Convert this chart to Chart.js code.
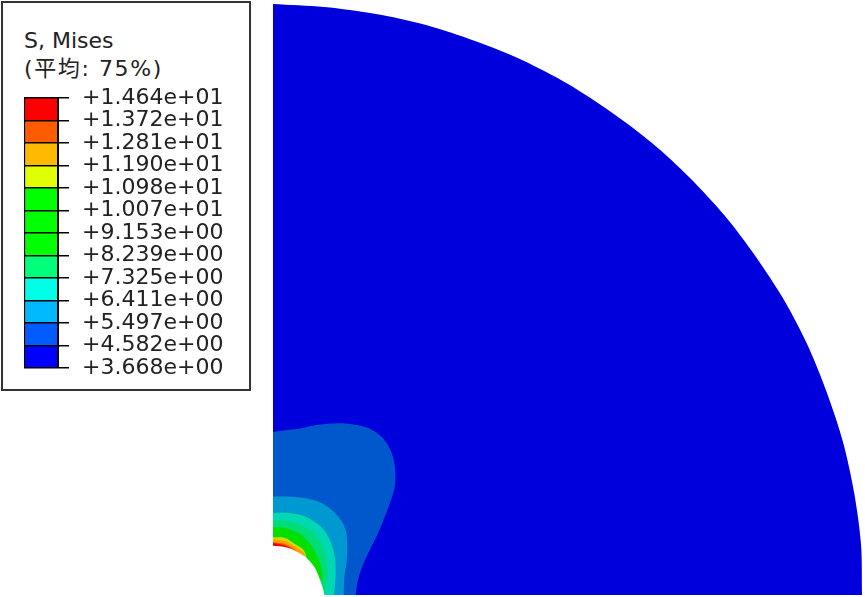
<!DOCTYPE html>
<html lang="ja">
  <head>
    <meta charset="UTF-8" />
    <title>S, Mises</title>
    <style>
      body {
        margin: 0;
        background: #fff;
        width: 865px;
        height: 597px;
        overflow: hidden;
        position: relative;
      }
      #plot {
        position: absolute;
        left: 0;
        top: 0;
      }
      #legend_box {
        position: absolute;
        left: 1px;
        top: 1px;
        width: 246px;
        height: 386px;
        border: 2px solid #333;
        background: #fff;
      }
      #legend_bar {
        position: absolute;
        left: 24px;
        top: 88px;
      }
      .legend_title {
        position: absolute;
        left: 24px;
        font: 22px "DejaVu Sans", "Noto Sans CJK JP", sans-serif;
        color: #222;
        line-height: 26px;
        white-space: nowrap;
      }
    </style>
  </head>
  <body>
    <canvas id="plot" width="865" height="597"></canvas>
    <div id="legend_box"></div>
    <div class="legend_title" style="top: 28px">S, Mises</div>
    <div class="legend_title" style="top: 56px; letter-spacing: 1.6px">(平均: 75%)</div>
    <canvas id="legend_bar" width="226" height="290"></canvas>
    <script src="https://cdn.jsdelivr.net/npm/chart.js"></script>
    <script>
      // legend, top to bottom
      const levelLabels = ["+1.464e+01", "+1.372e+01", "+1.281e+01", "+1.190e+01", "+1.098e+01", "+1.007e+01", "+9.153e+00", "+8.239e+00", "+7.325e+00", "+6.411e+00", "+5.497e+00", "+4.582e+00", "+3.668e+00"];
      const bandColors = ["#ff0000", "#ff5c00", "#ffb900", "#e0ff00", "#00ff00", "#00ff00", "#00ff00", "#00ff7a", "#00ffe6", "#00b9ff", "#005cff", "#0000ff"];

      // plate outline and contour lines, [x, y] from the hole centre
      const outerEdge = [[58.9, 0], [58.8, 5.1], [58.1, 10.3], [57, 15.3], [55.4, 20.2], [53.5, 24.9], [51.1, 29.5], [48.3, 33.8], [45.2, 37.9], [41.7, 41.7], [37.9, 45.2], [33.8, 48.3], [29.5, 51.1], [24.9, 53.5], [20.2, 55.4], [15.3, 57], [10.3, 58.1], [5.1, 58.8], [0, 59.1]];
      const contour46 = [[0, 16.3], [1.2, 16.47], [2.53, 16.63], [4.2, 16.97], [5.53, 17.13], [6.87, 17.17], [8.2, 17.03], [9.53, 16.7], [10.53, 16.1], [11.37, 15.2], [11.93, 14.03], [12.2, 12.7], [12.2, 11.03], [11.87, 9.7], [11.2, 7.87], [10.37, 5.87], [9.53, 4.2], [8.87, 2.7], [8.47, 1.37], [8.27, 0]];
      const contour55 = [[0, 9.83], [1.87, 9.83], [3.53, 9.63], [4.87, 9.2], [6.03, 8.37], [6.87, 7.37], [7.3, 6.37], [7.43, 5.03], [7.37, 3.37], [7.13, 1.7], [7.07, 0]];
      const contour64 = [[0, 8.2], [1.53, 8.2], [2.87, 7.97], [4.2, 7.3], [5.2, 6.37], [5.87, 5.03], [6.2, 3.7], [6.27, 2.03], [6.1, 0]];
      const contour73 = [[0, 7.47], [1.53, 7.37], [2.87, 6.97], [3.87, 6.37], [4.7, 5.37], [5.2, 4.2], [5.47, 2.7], [5.43, 1.37], [5.2, 0]];
      const contour82 = [[0, 6.77], [1.2, 6.7], [2.37, 6.27], [3.37, 5.53], [4.2, 4.37], [4.7, 3.2], [4.93, 2.2], [4.93, 1.53]];
      const contour110 = [[0, 5.77], [1.2, 5.7], [2.2, 5.1], [3.03, 4.53], [3.37, 3.77]];
      const contour119 = [[0, 5.57], [1.2, 5.4], [2.2, 4.85], [3, 4.3], [3.3, 3.75]];
      const contour128 = [[0, 5.27], [1.2, 5.1], [2.1, 4.6], [2.7, 4]];
      const contour137 = [[0, 5.2], [1.2, 4.95], [1.8, 4.6]];
      const holeEdge = [[0, 4.93], [1.2, 4.8], [2.2, 4.43], [3.37, 3.7], [4.2, 2.7], [4.7, 1.53], [5.03, 0.53], [5.13, 0]];

      const shapes = [
        { points: outerEdge, color: "#0000dc" },
        { points: contour46, color: "#0058cc" },
        { points: contour55, color: "#0098d0" },
        { points: contour64, color: "#00d8b4" },
        { points: contour73, color: "#00dc78" },
        { points: contour82, color: "#00e000" },
        { points: contour110, color: "#d0dc00" },
        { points: contour119, color: "#ffa000" },
        { points: contour128, color: "#ff5000" },
        { points: contour137, color: "#f00000" },
        { points: holeEdge, color: "#ffffff" },
      ];

      // last point twice keeps the curve from bulging past the edge, then back to the corner
      const closeShape = (points) => [...points, points[points.length - 1], [0, 0]];

      new Chart(document.getElementById("plot"), {
        type: "scatter",
        data: {
          datasets: shapes.map((s, i) => ({
            data: closeShape(s.points).map((p) => ({ x: p[0], y: p[1] })),
            showLine: true,
            fill: "shape",
            backgroundColor: s.color,
            borderWidth: 0,
            pointRadius: 0,
            tension: 0.3,
            order: shapes.length - i,
          })),
        },
        options: {
          responsive: false,
          animation: false,
          layout: { padding: 0 },
          plugins: { legend: { display: false }, tooltip: { enabled: false } },
          scales: {
            x: { display: false, min: -27.3, max: 59.2 },
            y: { display: false, min: -0.2, max: 59.5 },
          },
        },
      });

      // colour bar: bottom band first, axis ticks carry the level labels
      const barSets = bandColors
        .slice()
        .reverse()
        .map((c) => ({
          data: [1],
          backgroundColor: c,
          borderColor: "#000",
          borderWidth: { left: 1.5, right: 0, top: 0, bottom: 0 },
          borderSkipped: false,
          barPercentage: 1,
          categoryPercentage: 1,
        }));

      new Chart(document.getElementById("legend_bar"), {
        type: "bar",
        data: { labels: [""], datasets: barSets },
        options: {
          responsive: false,
          animation: false,
          layout: { padding: { top: 10, bottom: 10 } },
          plugins: { legend: { display: false }, tooltip: { enabled: false } },
          scales: {
            x: { display: false, stacked: true },
            y: {
              position: "right",
              stacked: true,
              min: 0,
              max: 12,
              afterFit: (scale) => {
                scale.width = 192;
                scale.paddingTop = 0;
                scale.paddingBottom = 0;
              },
              border: { color: "#000", width: 2, z: 2 },
              grid: { color: "#000", lineWidth: 1.5, tickLength: 11, z: 1 },
              ticks: {
                stepSize: 1,
                autoSkip: false,
                padding: 13,
                color: "#222",
                font: { family: "DejaVu Sans", size: 22 },
                callback: (v) => levelLabels[12 - v],
              },
            },
          },
        },
      });
    </script>
  </body>
</html>
